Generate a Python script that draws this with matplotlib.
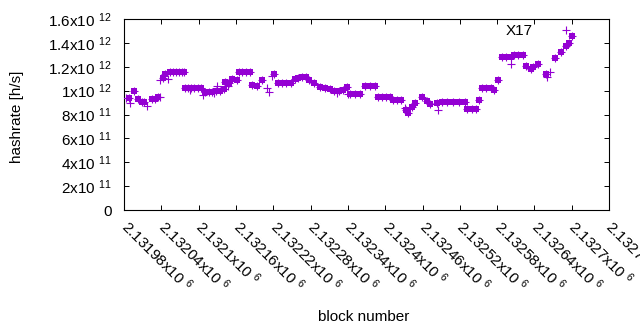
import numpy as np
import matplotlib
matplotlib.use('Agg')
import matplotlib.pyplot as plt

plt.rcParams['font.family'] = ['Liberation Sans', 'DejaVu Sans']
plt.rcParams['mathtext.default'] = 'regular'

# dense runs of blocks (drawn as solid blobs) : block, hashrate [1e12 h/s]
dense_blocks = [2131987, 2131995, 2132003, 2132008, 2132012, 2132025, 2132030, 2132034,
                2132043, 2132045, 2132053, 2132058, 2132063, 2132068, 2132073, 2132076,
                2132078, 2132083, 2132088, 2132093, 2132098, 2132104, 2132110, 2132116,
                2132122, 2132128, 2132134, 2132140, 2132142, 2132148, 2132153, 2132161,
                2132165, 2132170, 2132176, 2132183, 2132186, 2132193, 2132201, 2132221,
                2132228, 2132234, 2132241, 2132249, 2132255, 2132260, 2132266, 2132272,
                2132278, 2132285, 2132295, 2132303, 2132311, 2132318, 2132325, 2132332,
                2132339, 2132344, 2132352, 2132359, 2132367, 2132375, 2132383, 2132388,
                2132395, 2132402, 2132407, 2132412, 2132419, 2132426, 2132434, 2132436,
                2132443, 2132448, 2132459, 2132467, 2132472, 2132483, 2132491, 2132500,
                2132509, 2132518, 2132528, 2132532, 2132539, 2132546, 2132551, 2132555,
                2132562, 2132570, 2132575, 2132581, 2132588, 2132595, 2132602, 2132607,
                2132614, 2132622, 2132626, 2132634, 2132638, 2132646, 2132659, 2132673,
                2132683, 2132691, 2132695, 2132700]
dense_vals = [0.94, 0.997, 0.927, 0.907, 0.907, 0.927, 0.93, 0.944,
              1.103, 1.139, 1.152, 1.152, 1.152, 1.152, 1.152, 1.152,
              1.026, 1.026, 1.026, 1.026, 1.026, 1.026, 0.985, 0.988,
              0.99, 1.0, 1.0, 1.01, 1.07, 1.06, 1.10, 1.09,
              1.16, 1.16, 1.16, 1.16, 1.05, 1.04, 1.089, 1.139,
              1.06, 1.06, 1.06, 1.06, 1.095, 1.105, 1.115, 1.11,
              1.089, 1.06, 1.03, 1.02, 1.01, 1.0, 1.0, 1.005,
              1.028, 0.97, 0.97, 0.97, 1.04, 1.04, 1.04, 0.945,
              0.945, 0.945, 0.945, 0.92, 0.92, 0.92, 0.837, 0.81,
              0.86, 0.9, 0.947, 0.915, 0.89, 0.895, 0.905, 0.905,
              0.905, 0.905, 0.905, 0.85, 0.85, 0.85, 0.921, 1.02,
              1.02, 1.02, 1.005, 1.089, 1.279, 1.279, 1.279, 1.30,
              1.30, 1.30, 1.206, 1.178, 1.20, 1.223, 1.139, 1.27,
              1.32, 1.375, 1.40, 1.457]

# isolated blocks
single_blocks = [2131983, 2131990, 2132017, 2132038, 2132038, 2132050, 2132086, 2132106,
                 2132124, 2132130, 2132147, 2132210, 2132213, 2132217, 2132322, 2132340,
                 2132432, 2132485, 2132603, 2132661, 2132665]
single_vals = [0.935, 0.893, 0.873, 0.944, 1.089, 1.095, 1.005, 0.963,
               0.978, 1.04, 1.04, 1.024, 0.99, 1.12, 0.977, 0.975,
               0.858, 0.837, 1.223, 1.11, 1.16]

xticks = np.arange(2131980, 2132761, 60)
yticks = [0, 2e11, 4e11, 6e11, 8e11, 1e12, 1.2e12, 1.4e12, 1.6e12]
ylabels = ['0', '2x10 $^{11}$', '4x10 $^{11}$', '6x10 $^{11}$', '8x10 $^{11}$',
           '1x10 $^{12}$', '1.2x10 $^{12}$', '1.4x10 $^{12}$', '1.6x10 $^{12}$']

col = '#9400d3'

fig = plt.figure(figsize=(6.4, 3.3), dpi=100)
ax = fig.add_axes([124.2/640, 1-210/330, 484.8/640, 191/330])

db = np.array(dense_blocks)
dv = np.array(dense_vals) * 1e12
sb = np.array(single_blocks)
sv = np.array(single_vals) * 1e12

ax.plot(db, dv, 's', color=col, ms=5.0, mew=0, zorder=3)
ax.plot(db, dv, '+', color=col, ms=5.8, mew=0.8, zorder=3)
ax.plot(sb, sv, '+', color=col, ms=5.8, mew=0.8, zorder=3, label='X17')

ax.set_xlim(2131980, 2132760)
ax.set_ylim(0, 1.6e12)
ax.set_xticks(xticks)
ax.set_xticklabels(['%gx10 $^{6}$' % (t/1e6) for t in xticks], rotation=-45,
                   ha='left', va='center', rotation_mode='anchor')
ax.set_yticks(yticks)
ax.set_yticklabels(ylabels)
ax.tick_params(direction='in', top=True, right=True, length=3.3, width=0.7,
               labelsize=11, colors='black')
ax.tick_params(axis='y', pad=9)
ax.tick_params(axis='x', pad=10)
for s in ax.spines.values():
    s.set_linewidth(0.8)

ax.legend(loc='center right', bbox_to_anchor=(0.955, 0.937), borderaxespad=0,
          frameon=False, markerfirst=False, handletextpad=1.2, handlelength=2.0,
          fontsize=11)

fig.text(17/640, 1-117/330, 'hashrate [h/s]', rotation=90, ha='center', va='center', fontsize=11)
fig.text(364/640, 1-317/330, 'block number', ha='center', va='center', fontsize=11)

plt.savefig('out.png', dpi=100)
